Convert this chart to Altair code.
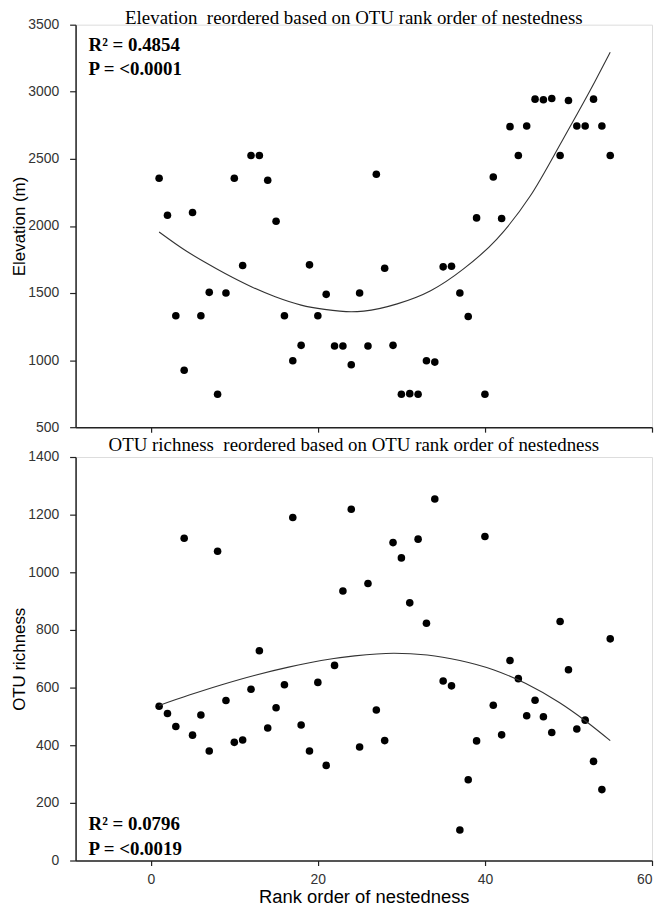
import altair as alt
import pandas as pd

rank = [1, 2, 3, 4, 5, 6, 7, 8, 9, 10, 11, 12, 13, 14, 15, 16, 17, 18, 19, 20,
        21, 22, 23, 24, 25, 26, 27, 28, 29, 30, 31, 32, 33, 34, 35, 36, 37, 38, 39, 40,
        41, 42, 43, 44, 45, 46, 47, 48, 49, 50, 51, 52, 53, 54, 55]
elevation = [2355, 2080, 1330, 925, 2100, 1330, 1505, 745, 1500, 2355,
             1705, 2525, 2525, 2340, 2035, 1330, 995, 1110, 1710, 1330,
             1490, 1105, 1105, 965, 1500, 1105, 2385, 1685, 1110, 745,
             750, 745, 995, 985, 1695, 1700, 1500, 1325, 2060, 745,
             2365, 2055, 2740, 2525, 2745, 2945, 2940, 2950, 2525, 2935,
             2745, 2745, 2945, 2745, 2525]
otu_richness = [535, 510, 465, 1118, 435, 505, 380, 1073, 555, 410,
                418, 594, 728, 460, 530, 610, 1190, 470, 380, 618,
                330, 677, 935, 1219, 394, 961, 522, 416, 1103, 1050,
                894, 1115, 823, 1254, 623, 606, 106, 280, 415, 1124,
                539, 436, 694, 631, 502, 556, 499, 444, 829, 662,
                456, 487, 344, 246, 769]

# fitted curves
elev_fit_rank = [1.0, 4.2, 6.6, 8.9, 12.1, 14.9, 18.0, 20.8, 24.0, 25.5, 29.5,
                 33.5, 37.4, 41.4, 45.4, 49.3, 53.2, 55.0]
elev_fit_value = [1955, 1815, 1725, 1645, 1545, 1472, 1410, 1378, 1360, 1365, 1419,
                  1517, 1678, 1900, 2221, 2641, 3080, 3295]
rich_fit_rank = [1.0, 4.6, 8.5, 12.5, 16.5, 20.4, 24.4, 29.1, 33.1, 37.0, 41.0,
                 44.9, 48.9, 52.0, 55.0]
rich_fit_value = [538, 574, 610, 643, 671, 694, 710, 719, 713, 694, 662,
                  614, 548, 485, 416]

elev_ticks = [500, 1000, 1500, 2000, 2500, 3000, 3500]
rich_ticks = [0, 200, 400, 600, 800, 1000, 1200, 1400]
x_ticks = [0, 20, 40, 60]

top_title = "Elevation\u00a0 reordered based on OTU rank order of nestedness"
bottom_title = "OTU richness\u00a0 reordered based on OTU rank order of nestedness"
top_stats = ["R\u00b2 = 0.4854", "P = <0.0001"]
bottom_stats = ["R\u00b2 = 0.0796", "P = <0.0019"]

SERIF = "Liberation Serif"
SANS = "Liberation Sans"
W = 580

pts = pd.DataFrame({"rank": rank, "elev": elevation, "rich": otu_richness})
fit_e = pd.DataFrame({"rank": elev_fit_rank, "elev": elev_fit_value})
fit_r = pd.DataFrame({"rank": rich_fit_rank, "rich": rich_fit_value})

xscale = alt.Scale(domain=[-9, 60], nice=False, zero=False)


def y_axis(values, title):
    return alt.Axis(values=values, title=title, format="d", titleFont=SANS, titleFontSize=17,
                    titleFontWeight="normal", titleColor="black", titleAngle=-90,
                    titleX=-56, titleBaseline="middle",
                    labelFont=SANS, labelFontSize=14, labelColor="#333",
                    labelPadding=11, tickSize=6, grid=False,
                    domainColor="#222", domainWidth=1.5, tickColor="#222", tickWidth=1.2)


def stats_layers(lines, y0):
    layers = []
    for i, line in enumerate(lines):
        df = pd.DataFrame({"t": [line]})
        layers.append(alt.Chart(df).mark_text(
            font=SERIF, fontSize=19, fontWeight="bold", align="left",
            baseline="alphabetic", color="black").encode(
            x=alt.value(13), y=alt.value(y0 + 25 * i), text="t:N"))
    return layers


# ---- top panel
top_x_axis = alt.Axis(values=x_ticks, labels=False, title=None, tickSize=5, grid=False,
                      domainColor="#222", domainWidth=1.5, tickColor="#222", tickWidth=1.2)
top_pts = alt.Chart(pts).mark_circle(size=58, color="black", opacity=1).encode(
    x=alt.X("rank:Q", scale=xscale, axis=top_x_axis),
    y=alt.Y("elev:Q", scale=alt.Scale(domain=[500, 3500], nice=False, zero=False),
            axis=y_axis(elev_ticks, "Elevation (m)")))
top_fit = alt.Chart(fit_e).mark_line(color="#333", strokeWidth=1.1, interpolate="monotone").encode(
    x=alt.X("rank:Q", scale=xscale),
    y=alt.Y("elev:Q", scale=alt.Scale(domain=[500, 3500], nice=False, zero=False)))
top = alt.layer(top_pts, top_fit, *stats_layers(top_stats, 26)).properties(
    width=W, height=405,
    title=alt.TitleParams(top_title, font=SERIF, fontSize=19, fontWeight="normal",
                          color="black", anchor="middle", dx=-10, offset=-10))

# ---- bottom panel
bot_x_axis = alt.Axis(values=x_ticks, title="Rank order of nestedness", titleFont=SANS,
                      titleFontSize=18.5, titleFontWeight="normal", titleColor="black",
                      titlePadding=1, labelFont=SANS, labelFontSize=14, labelColor="#333",
                      labelPadding=7, tickSize=5, grid=False,
                      domainColor="#222", domainWidth=1.5, tickColor="#222", tickWidth=1.2)
bot_pts = alt.Chart(pts).mark_circle(size=58, color="black", opacity=1).encode(
    x=alt.X("rank:Q", scale=xscale, axis=bot_x_axis),
    y=alt.Y("rich:Q", scale=alt.Scale(domain=[0, 1400], nice=False),
            axis=y_axis(rich_ticks, "OTU richness")))
bot_fit = alt.Chart(fit_r).mark_line(color="#333", strokeWidth=1.1, interpolate="monotone").encode(
    x=alt.X("rank:Q", scale=xscale),
    y=alt.Y("rich:Q", scale=alt.Scale(domain=[0, 1400], nice=False)))
bottom = alt.layer(bot_pts, bot_fit, *stats_layers(bottom_stats, 375)).properties(
    width=W, height=406,
    title=alt.TitleParams(bottom_title, font=SERIF, fontSize=19, fontWeight="normal",
                          color="black", anchor="middle", dx=-10, offset=-5))

chart = alt.vconcat(top, bottom, spacing=0).properties(
    padding={"left": 2, "top": -3, "right": 0, "bottom": 0}
).configure_view(stroke="#777", strokeWidth=1).configure(background="white")

chart.save("out.html", embed_options={"renderer": "svg", "actions": False})
